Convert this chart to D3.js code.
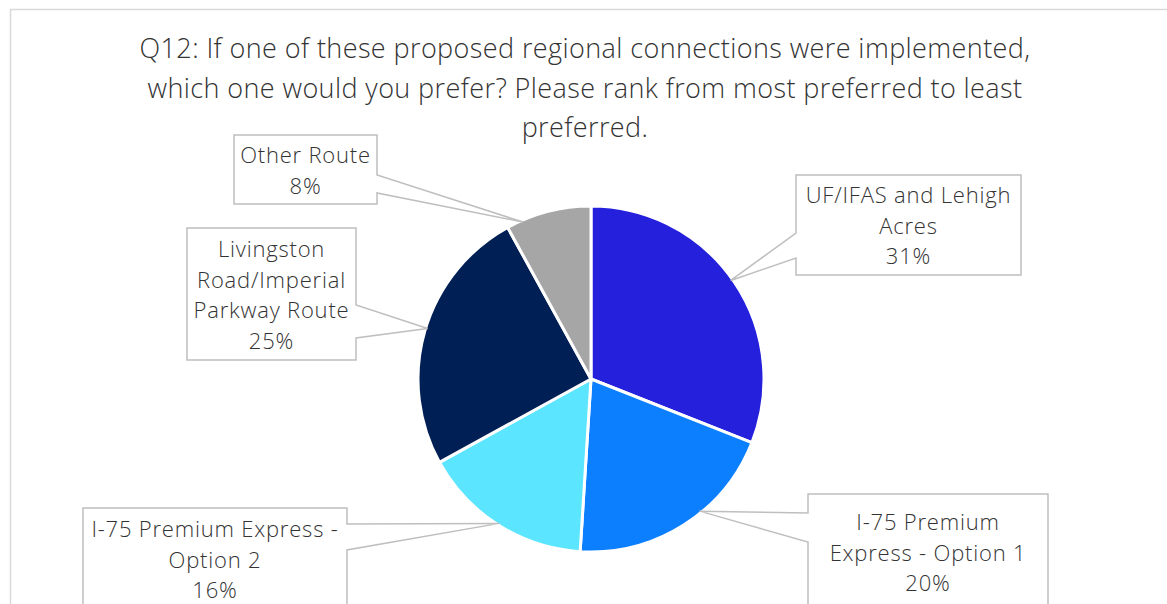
<!DOCTYPE html>
<html>
<head>
<meta charset="utf-8">
<script src="https://cdn.jsdelivr.net/npm/d3@7"></script>
<style>
  body { margin: 0; background: #fff; }
  svg { display: block; font-family: "Open Sans", sans-serif; }
</style>
</head>
<body>
<div id="chart"></div>
<script>
// data
const categories = ["UF/IFAS and Lehigh Acres", "I-75 Premium Express - Option 1", "I-75 Premium Express - Option 2", "Livingston Road/Imperial Parkway Route", "Other Route"];
const values = [31, 20, 16, 25, 8];
const labelLines = [
  ["UF/IFAS and Lehigh", "Acres"],
  ["I-75 Premium", "Express - Option 1"],
  ["I-75 Premium Express -", "Option 2"],
  ["Livingston", "Road/Imperial", "Parkway Route"],
  ["Other Route"]
];
const titleLines = [
  "Q12: If one of these proposed regional connections were implemented,",
  "which one would you prefer? Please rank from most preferred to least",
  "preferred."
];
const colors = ["#2420DC", "#0C7FFF", "#5CE5FF", "#001F55", "#A6A6A6"];

const width = 1167, height = 604;
const cx = 591, cy = 379, radius = 173;

// callout layout: box [x, y, w, h], side of pointer, pointer attach ys, tip angle nudge (deg), first baseline offset
const callouts = [
  { box: [796, 175, 225, 100], side: "left",  py: [233, 258], nudge: -1, text: 28 },
  { box: [808, 494, 240, 140], side: "left",  py: [513, 542], nudge: -7, text: 36 },
  { box: [83, 508, 264, 130],  side: "right", py: [524, 550], nudge: 0,  text: 29 },
  { box: [187, 228, 169, 132], side: "right", py: [305, 338], nudge: 1,  text: 29 },
  { box: [234, 135, 143, 69],  side: "right", py: [175, 193], nudge: -9, text: 28 }
];

const svg = d3.select("#chart").append("svg")
  .attr("width", width)
  .attr("height", height);

// outer chart frame
svg.append("rect")
  .attr("x", 10.5).attr("y", 9.5)
  .attr("width", 1200).attr("height", 700)
  .attr("fill", "#fff")
  .attr("stroke", "#d9d9d9")
  .attr("stroke-width", 1.5);

// title
svg.append("text")
  .attr("text-anchor", "middle")
  .attr("fill", "#333")
  .attr("font-size", 27)
  .attr("font-weight", 300)
  .attr("letter-spacing", 0.4)
  .selectAll("tspan")
  .data(titleLines)
  .join("tspan")
    .attr("x", 585)
    .attr("y", (d, i) => 58 + i * 39.5)
    .text(d => d);

const pie = d3.pie().sort(null).value(d => d)(values);
const arc = d3.arc().innerRadius(0).outerRadius(radius);

const g = svg.append("g").attr("transform", `translate(${cx},${cy})`);

g.selectAll("path")
  .data(pie)
  .join("path")
    .attr("d", arc)
    .attr("fill", (d, i) => colors[i])
    .attr("stroke", "#fff")
    .attr("stroke-width", 3)
    .attr("stroke-linejoin", "round");

// callouts
const fmt = d3.format(".0%");
const total = d3.sum(values);

pie.forEach((d, i) => {
  const c = callouts[i];
  const a = (d.startAngle + d.endAngle) / 2 + c.nudge * Math.PI / 180;
  const tx = cx + Math.sin(a) * (radius - 2);
  const ty = cy - Math.cos(a) * (radius - 2);
  const [x, y, w, h] = c.box;
  const r = x + w, b = y + h;
  let p;
  if (c.side === "left") {
    p = `M${x},${y}L${r},${y}L${r},${b}L${x},${b}L${x},${c.py[1]}L${tx},${ty}L${x},${c.py[0]}Z`;
  } else {
    p = `M${x},${y}L${r},${y}L${r},${c.py[0]}L${tx},${ty}L${r},${c.py[1]}L${r},${b}L${x},${b}Z`;
  }
  svg.append("path")
    .attr("d", p)
    .attr("fill", "#fff")
    .attr("stroke", "#bfbfbf")
    .attr("stroke-width", 1.5)
    .attr("stroke-linejoin", "miter");

  const lines = labelLines[i].concat(fmt(values[i] / total));
  svg.append("text")
    .attr("text-anchor", "middle")
    .attr("fill", "#333")
    .attr("font-size", 22)
    .attr("font-weight", 300)
    .attr("letter-spacing", 0.8)
    .selectAll("tspan")
    .data(lines)
    .join("tspan")
      .attr("x", x + w / 2)
      .attr("y", (t, j) => y + c.text + j * 30.5)
      .text(t => t);
});
</script>
</body>
</html>
